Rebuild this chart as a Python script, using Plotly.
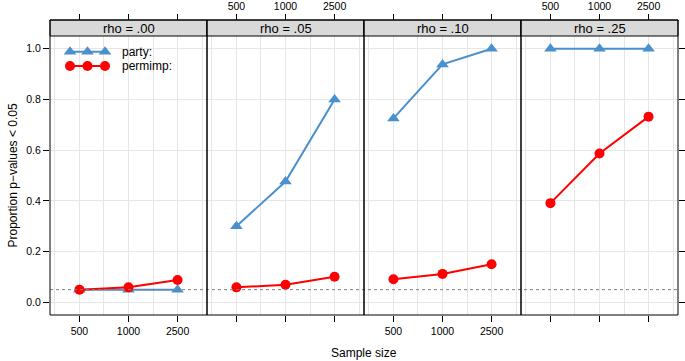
import plotly.graph_objects as go

# ---------------- data ----------------
sample_sizes = ["500", "1000", "2500"]
panels = ["rho = .00", "rho = .05", "rho = .10", "rho = .25"]
party = [
    [0.05, 0.05, 0.05],
    [0.30, 0.476, 0.80],
    [0.725, 0.938, 1.00],
    [1.00, 1.00, 1.00],
]
permimp = [
    [0.05, 0.059, 0.088],
    [0.059, 0.069, 0.101],
    [0.091, 0.112, 0.15],
    [0.391, 0.587, 0.732],
]
alpha_level = 0.05
series_names = ["party:", "permimp:"]

# ---------------- style ----------------
W, H = 685, 361
BLUE = "#4A90CC"
RED = "#FF0000"
GRID = "#E6E6E6"
FONT = "Liberation Sans, Arial, Helvetica, sans-serif"
left, right = 50, 678
top_panel, bottom_panel, strip_top = 36, 315, 20
pw = (right - left) / 4

def px(x):
    return x / W

def py(y):
    return 1 - y / H

pos = [1, 2, 3]
fig = go.Figure()
layout = {}

for i in range(4):
    n = i + 1
    xa = "x" if n == 1 else f"x{n}"
    x0, x1 = left + i * pw, left + (i + 1) * pw
    layout[f"xaxis{n}"] = dict(
        domain=[px(x0), px(x1)], range=[0.4, 3.6], anchor="y",
        tickvals=pos, ticktext=sample_sizes, ticks="outside", ticklen=6,
        tickcolor="black", showticklabels=(i % 2 == 0), showgrid=True,
        gridcolor=GRID, gridwidth=1, zeroline=False, showline=False,
        minor=dict(tickvals=[0.5, 1.5, 2.5, 3.5], showgrid=True,
                   gridcolor=GRID, ticks=""),
        tickfont=dict(size=10.5, color="black"), fixedrange=True,
        automargin=False,
    )
    # top axis (ticks above strip)
    m = n + 4
    layout[f"xaxis{m}"] = dict(
        overlaying=xa, side="top", anchor="free", position=py(strip_top),
        range=[0.4, 3.6], tickvals=pos, ticktext=sample_sizes,
        ticks="outside", ticklen=6, tickcolor="black",
        showticklabels=(i % 2 == 1), showgrid=False, zeroline=False,
        showline=False, tickfont=dict(size=10.5, color="black"),
        automargin=False,
    )
    fig.add_trace(go.Scatter(x=[2], y=[None], xaxis=f"x{m}", yaxis="y",
                             showlegend=False, hoverinfo="skip"))

    fig.add_trace(go.Scatter(
        x=pos, y=party[i], xaxis=xa, yaxis="y", mode="lines+markers",
        line=dict(color=BLUE, width=2),
        marker=dict(symbol="triangle-up", size=11, color=BLUE),
        showlegend=False, name="party"))
    fig.add_trace(go.Scatter(
        x=pos, y=permimp[i], xaxis=xa, yaxis="y", mode="lines+markers",
        line=dict(color=RED, width=2),
        marker=dict(symbol="circle", size=10, color=RED),
        showlegend=False, name="permimp"))

layout["yaxis"] = dict(
    domain=[py(bottom_panel), py(top_panel)], range=[-0.05, 1.05],
    anchor="x", tickvals=[0, 0.2, 0.4, 0.6, 0.8, 1.0],
    ticktext=["0.0", "0.2", "0.4", "0.6", "0.8", "1.0"],
    ticks="outside", ticklen=6, tickcolor="black", showgrid=True,
    gridcolor=GRID, zeroline=False, showline=False,
    tickfont=dict(size=10.5, color="black"), automargin=False,
)
layout["yaxis2"] = dict(
    overlaying="y", anchor="x4", side="right", range=[-0.05, 1.05],
    tickvals=[0, 0.2, 0.4, 0.6, 0.8, 1.0], ticks="outside", ticklen=6,
    tickcolor="black", showticklabels=False, showgrid=False,
    zeroline=False, showline=False, automargin=False,
)
fig.add_trace(go.Scatter(x=[2], y=[None], xaxis="x4", yaxis="y2",
                         showlegend=False, hoverinfo="skip"))

# reference line
shapes = [dict(type="line", xref="paper", yref="y", x0=px(left), x1=px(right),
               y0=alpha_level, y1=alpha_level,
               line=dict(color="#808080", width=1, dash="3px,3px"), layer="above")]

annotations = []
for i, name in enumerate(panels):
    x0, x1 = left + i * pw, left + (i + 1) * pw
    shapes.append(dict(type="rect", xref="paper", yref="paper",
                       x0=px(x0), x1=px(x1), y0=py(top_panel), y1=py(strip_top),
                       fillcolor="#D9D9D9", line=dict(color="black", width=1),
                       layer="above"))
    shapes.append(dict(type="rect", xref="paper", yref="paper",
                       x0=px(x0), x1=px(x1), y0=py(bottom_panel), y1=py(strip_top),
                       fillcolor="rgba(0,0,0,0)", line=dict(color="black", width=1),
                       layer="above"))
    annotations.append(dict(text=name, xref="paper", yref="paper",
                            x=px((x0 + x1) / 2), y=py((strip_top + top_panel) / 2),
                            showarrow=False, xanchor="center", yanchor="middle",
                            font=dict(size=13, color="black")))

# legend keys (drawn in an auxiliary pixel-space overlay axis inside panel 1)
layout["xaxis9"] = dict(overlaying="x", range=[0, pw], anchor="y9",
                        visible=False, fixedrange=True)
layout["yaxis9"] = dict(overlaying="y", range=[bottom_panel - top_panel, 0],
                        anchor="x9", visible=False, fixedrange=True)
key_x = [20, 37.5, 55]
key_rows = [15.7, 30]
key_styles = [(BLUE, "triangle-up", 11), (RED, "circle", 10)]
for (col, sym, sz), yy, label in zip(key_styles, key_rows, series_names):
    fig.add_trace(go.Scatter(x=key_x, y=[yy] * 3, xaxis="x9", yaxis="y9",
                             mode="lines+markers", line=dict(color=col, width=2),
                             marker=dict(symbol=sym, size=sz, color=col),
                             showlegend=False, hoverinfo="skip"))
    annotations.append(dict(text=label, xref="x9", yref="y9", x=70, y=yy,
                            showarrow=False, xanchor="left", yanchor="middle",
                            font=dict(size=12, color="black")))

annotations.append(dict(text="Sample size", xref="paper", yref="paper",
                        x=px((left + right) / 2), y=py(353), showarrow=False,
                        xanchor="center", yanchor="middle",
                        font=dict(size=12, color="black")))
annotations.append(dict(text="Proportion p−values < 0.05", xref="paper",
                        yref="paper", x=px(12), y=py((top_panel + bottom_panel) / 2),
                        showarrow=False, textangle=-90, xanchor="center",
                        yanchor="middle", font=dict(size=12, color="black")))

fig.update_layout(
    width=W, height=H, margin=dict(l=0, r=0, t=0, b=0),
    paper_bgcolor="white", plot_bgcolor="white",
    font=dict(family=FONT, color="black"),
    shapes=shapes, annotations=annotations, showlegend=False,
    **layout,
)
fig.write_html(
    "out.html",
    config={"displayModeBar": False},
    post_script="document.body.style.margin='0';document.body.style.padding='0';",
)
